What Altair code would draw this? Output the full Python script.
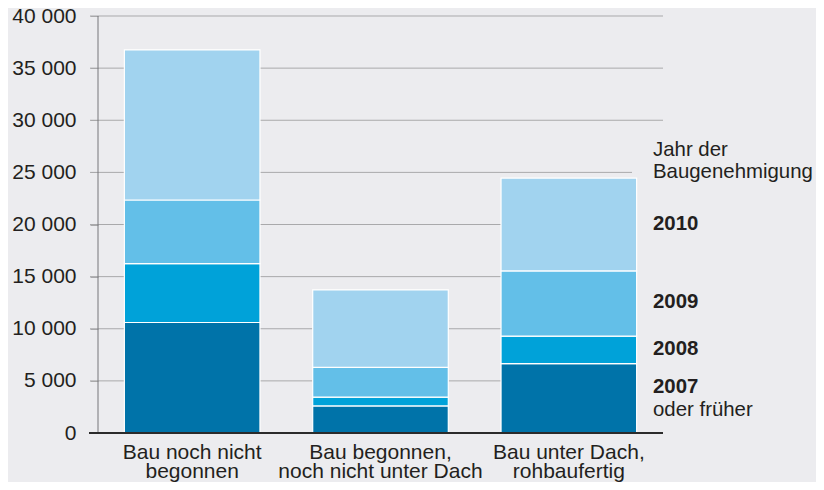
import altair as alt
import pandas as pd

# ---- data ----
categories = ["Bau noch nicht|begonnen",
              "Bau begonnen,|noch nicht unter Dach",
              "Bau unter Dach,|rohbaufertig"]
years = ["2007", "2008", "2009", "2010"]
v2007 = [10600, 2600, 6650]
v2008 = [5650, 850, 2650]
v2009 = [6100, 2850, 6250]
v2010 = [14400, 7420, 8900]
y_ticks = [0, 5000, 10000, 15000, 20000, 25000, 30000, 35000, 40000]
grid_vals = [5000, 10000, 15000, 20000, 25000, 30000, 35000, 40000]
legend_title = ["Jahr der", "Baugenehmigung"]
legend_sub = "oder früher"
colors = ["#0073a9", "#00a2d9", "#63bfe8", "#a1d3ef"]

BG = "#ececef"
FONT = "Liberation Sans"
TXT = "#231f20"
FS = 21
FSL = 20.4
W, H = 565, 417

series = [v2007, v2008, v2009, v2010]
rows = []
for yi, (yr, vals) in enumerate(zip(years, series)):
    for ci, cat in enumerate(categories):
        rows.append({"cat": cat, "year": yr, "yi": yi, "value": vals[ci]})
df = pd.DataFrame(rows)

# label positions: midpoints of the third bar's segments
last = df[df["cat"] == categories[-1]].sort_values("yi").copy()
last["top"] = last["value"].cumsum()
last["mid"] = last["top"] - last["value"] / 2

yscale = alt.Scale(domain=[0, 40000], nice=False)
yaxis = alt.Axis(title=None, values=y_ticks, grid=False, domain=False,
                 ticks=True, tickSize=8, tickColor="#a9a9ab",
                 labelPadding=14, labelFont=FONT, labelFontSize=FS,
                 labelColor=TXT,
                 labelExpr="replace(format(datum.value, ',d'), ',', ' ')")

grid = alt.Chart(pd.DataFrame({"value": grid_vals})).mark_rule(
    color="#a9a9ab", strokeWidth=1
).encode(
    y=alt.Y("value:Q", scale=yscale, axis=yaxis),
    x=alt.value(-8), x2=alt.value(W),
)

cover = alt.Chart(pd.DataFrame({"a": [0]})).mark_rect(color=BG).encode(
    x=alt.value(534), x2=alt.value(W + 200),
    y=alt.value(120), y2=alt.value(H - 1),
)

bars = alt.Chart(df).mark_bar(stroke="white", strokeWidth=1.2).encode(
    x=alt.X("cat:N", sort=categories,
            scale=alt.Scale(paddingInner=0.28, paddingOuter=0.14),
            axis=alt.Axis(title=None, labelAngle=0, domain=False, ticks=False,
                          labelExpr="split(datum.label, '|')", labelLimit=400,
                          labelFont=FONT, labelFontSize=FS, labelLineHeight=19,
                          labelColor=TXT, labelPadding=8, labelBaseline="top")),
    y=alt.Y("value:Q", stack="zero", scale=yscale, axis=yaxis),
    color=alt.Color("year:N", scale=alt.Scale(domain=years, range=colors), legend=None),
    order=alt.Order("yi:Q", sort="ascending"),
)

yaxis_line = alt.Chart(pd.DataFrame({"a": [0]})).mark_rule(color="#77777a", strokeWidth=1).encode(
    x=alt.value(0), y=alt.value(0), y2=alt.value(H),
)
baseline = alt.Chart(pd.DataFrame({"a": [0]})).mark_rule(color="#2b2b2b", strokeWidth=2).encode(
    x=alt.value(-9), x2=alt.value(W), y=alt.value(H),
)

lab_data = alt.Chart(last.rename(columns={"value": "seg", "mid": "value"}))
common = dict(align="left", baseline="middle", font=FONT, fontSize=FSL, color=TXT)
lab_main = lab_data.transform_filter("datum.yi > 0").mark_text(
    fontWeight="bold", dy=-1, **common
).encode(y=alt.Y("value:Q", scale=yscale, axis=yaxis), x=alt.value(555), text="year:N")
lab_2007 = lab_data.transform_filter("datum.yi == 0").mark_text(
    fontWeight="bold", dy=-11, **common
).encode(y=alt.Y("value:Q", scale=yscale, axis=yaxis), x=alt.value(555), text="year:N")
lab_sub = lab_data.transform_filter("datum.yi == 0").mark_text(
    dy=12, **common
).encode(y=alt.Y("value:Q", scale=yscale, axis=yaxis), x=alt.value(555), text=alt.value(legend_sub))

one = pd.DataFrame({"a": [0]})
lab_t1 = alt.Chart(one).mark_text(**common).encode(
    x=alt.value(555), y=alt.value(134), text=alt.value(legend_title[0]))
lab_t2 = alt.Chart(one).mark_text(**common).encode(
    x=alt.value(555), y=alt.value(156), text=alt.value(legend_title[1]))

chart = alt.layer(
    grid, cover, bars, yaxis_line, baseline, lab_main, lab_2007, lab_sub, lab_t1, lab_t2
).properties(
    width=W, height=H,
    autosize=alt.AutoSizeParams(type="none"),
    padding={"left": 90, "top": 8, "right": 153, "bottom": 49},
    background=BG,
).configure_view(stroke=None)

chart.save("out.html", embed_options={"renderer": "svg", "actions": False})
